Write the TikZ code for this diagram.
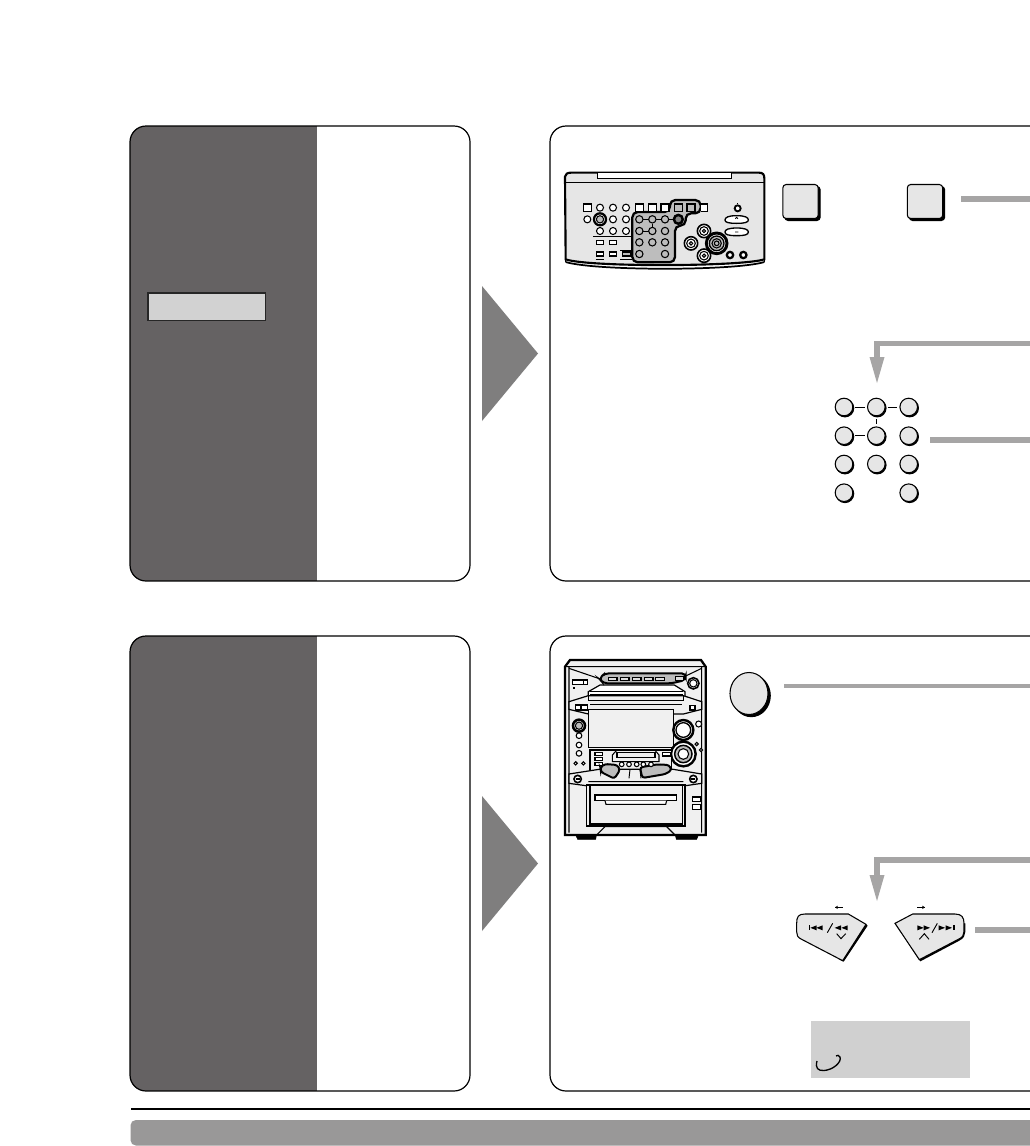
\documentclass[tikz,border=0pt]{standalone}
\usetikzlibrary{calc,shapes.geometric}
\definecolor{panelgrey}{HTML}{656263}
\definecolor{keygrey}{HTML}{E6E6E6}
\definecolor{bargrey}{HTML}{A6A5A5}
\definecolor{trigrey}{HTML}{7F7E7E}
\definecolor{hilite}{HTML}{BDBDBD}
\definecolor{notegrey}{HTML}{D0D0D0}
\definecolor{bandgrey}{HTML}{999898}
\definecolor{bodygrey}{HTML}{F0F0F0}
\tikzset{
  panel/.style={draw=black,line width=.9pt,rounded corners=12pt},
  keysq/.style={draw=black,fill=keygrey,line width=.8pt,rounded corners=2.5pt,minimum width=26.5pt,minimum height=25.5pt,inner sep=0pt,
     preaction={draw=black,fill=black,line width=.8pt,transform canvas={shift={(1.5pt,-1.5pt)}}}},
  keyrd/.style={circle,draw=black,fill=keygrey,line width=.8pt,minimum size=13.2pt,inner sep=0pt,
     preaction={draw=black,fill=black,line width=.8pt,transform canvas={shift={(.7pt,-.8pt)}}}},
  keybig/.style={ellipse,draw=black,fill=keygrey,line width=.8pt,minimum width=28.5pt,minimum height=31.5pt,inner sep=0pt,
     preaction={draw=black,fill=black,line width=.8pt,transform canvas={shift={(1.7pt,-1.6pt)}}}},
  bar/.style={draw=bargrey,line width=4.4pt},
  fin/.style={line width=.8pt,draw=black},
  hl/.style={fill=hilite,draw=black,line width=1.5pt,rounded corners=2pt},
  zoomed/.style={x=.25pt,y=-.25pt},
}
\newcommand{\bigpanel}[1]{%
  \begin{scope}[shift={(0,#1)}]
    \begin{scope}
      \clip[rounded corners=12pt] (130,126) rectangle (470,581);
      \fill[panelgrey] (130,126) rectangle (317,581);
    \end{scope}
    \draw[panel] (130,126) rectangle (470,581);
    \draw[panel] (550,126) rectangle (1060,581);
    \fill[trigrey] (482,286) -- (538,353.5) -- (482,421) -- cycle;
  \end{scope}}
\begin{document}
\begin{tikzpicture}[x=.75pt,y=-.75pt]
\useasboundingbox (0,0) rectangle (1030,1146);
\clip (0,0) rectangle (1030,1146);
\fill[white] (0,0) rectangle (1030,1146);
\bigpanel{0}
\bigpanel{510}
% label box on first dark panel
\node[draw=black!85,fill=notegrey!95!white,line width=1pt,minimum width=88pt,minimum height=20.5pt,inner sep=0pt] (labelbox) at (206.7,306.7) {};
% remote control
\begin{scope}[shift={(555,160)},zoomed]
  \draw[fill=keygrey,line width=1.6pt] (30,50) .. controls (32,42) and (36,38) .. (48,38) -- (612,38) .. controls (624,38) and (628,44) .. (628,55) -- (628,298) .. controls (560,320) and (100,322) .. (32,298) -- cycle;
  \draw[line width=.8pt] (32,68) -- (626,68);
  \draw[line width=.8pt,fill=white] (128,38) -- (128,55) -- (530,55) -- (530,38);
  \draw[line width=1.3pt] (32,306) .. controls (120,333) and (540,333) .. (628,306);
  \draw[line width=.8pt] (32,298) -- (32,306) (628,298) -- (628,306);
  % highlight
  \draw[hl,line width=1.7pt,rounded corners=4pt] (345,120) -- (437,120) -- (437,160) -- (392,160) -- (392,197) -- (360,197) -- (360,307) -- (232,307) -- (232,156) -- (345,156) -- cycle;
  \foreach \x in {253,292,330} \draw[fin,fill=hilite] (\x,178) circle (11);
  \draw[fin,fill=hilite!70!black] (370,178) circle (11);
  \draw[line width=1.5pt] (370,178) circle (14);
  \foreach \x in {253,292,330} \draw[fin,fill=hilite] (\x,213) circle (11);
  \foreach \x in {253,292,330} \draw[fin,fill=hilite] (\x,247) circle (11);
  \foreach \x in {253,330} \draw[fin,fill=hilite] (\x,282) circle (11);
  \draw[line width=.7pt] (264,178) -- (281,178) (303,178) -- (319,178) (341,178) -- (356,178) (264,213) -- (281,213) (292,191) -- (292,202);
  \foreach \x in {97,253,292,330} \draw[fin,fill=white] (\x-12,132) rectangle (\x+12,154);
  \foreach \x in {370,408} \draw[fin,fill=hilite] (\x-12,132) rectangle (\x+12,154);
  \draw[fin,fill=white] (437,132) -- (458,132) -- (458,154) -- (437,154);
  \foreach \x in {135,174,213} \draw[fin,fill=white] (\x,143) circle (10.5);
  \foreach \x in {97,174,213} \draw[fin,fill=white] (\x,178) circle (10.5);
  \draw[line width=1.7pt,fill=white] (135,178) circle (18);
  \draw[fin,fill=hilite] (135,178) circle (11);
  \foreach \x in {135,174,213} \draw[fin,fill=white] (\x,213) circle (10.5);
  \draw[line width=.7pt] (115,229) -- (232,229);
  \foreach \x in {135,174} \draw[fin,fill=white] (\x-11,241) rectangle (\x+11,253);
  \foreach \x in {135,174} \draw[fin,fill=white] (\x-11,276) rectangle (\x+11,288);
  \draw[fin,fill=hilite] (202,276) rectangle (228,288);
  \draw[line width=.7pt] (122,298) -- (148,298) (195,270) -- (232,270) (195,298) -- (232,298);
  % right cluster
  \draw[line width=1.4pt,fill=white] (548,145) circle (9);
  \draw[line width=.9pt] (548,133) -- (548,128);
  \draw[line width=1pt,fill=white] (545,167) .. controls (520,167) and (510,172) .. (510,180) .. controls (510,187) and (520,190) .. (545,190) .. controls (570,190) and (580,187) .. (580,180) .. controls (580,172) and (570,167) .. (545,167) -- cycle;
  \draw[line width=1pt,fill=white] (545,204) .. controls (520,204) and (510,209) .. (510,216) .. controls (510,224) and (520,227) .. (545,227) .. controls (570,227) and (580,224) .. (580,216) .. controls (580,209) and (570,204) .. (545,204) -- cycle;
  \draw[line width=.7pt] (541,176) -- (545,172) -- (549,176) (540,216) -- (550,216);
  \foreach \x/\y in {447/213,408/250,447/287} {
    \draw[line width=1.2pt,fill=white] (\x,\y) circle (20);
    \draw[line width=.8pt] (\x,\y) circle (13);
    \draw[line width=.8pt] (\x,\y) circle (5);
  }
  \draw[line width=2.2pt,fill=white] (485,250) circle (31);
  \draw[line width=1pt,fill=hilite] (485,250) circle (22);
  \draw[line width=.8pt] (485,250) circle (14);
  \draw[line width=.8pt] (485,250) circle (7);
  \foreach \x in {525,565} \draw[line width=1.7pt,fill=white] (\x,285) circle (9.5);
\end{scope}
% stereo unit
\begin{scope}[shift={(555,650)},zoomed]
  \draw[fill=black] (60,550) -- (68,568) -- (122,568) -- (125,550) -- cycle (360,550) -- (364,568) -- (425,568) -- (432,550) -- cycle;
  \draw[fill=bodygrey,line width=1.7pt] (30,50) -- (45,30) -- (438,30) -- (452,50) -- (452,555) -- (30,555) -- cycle;
  \draw[line width=.8pt] (33,50) -- (450,50) (42,50) -- (42,548) (440,50) -- (440,548) (125,555) -- (150,530) -- (335,530) -- (360,555);
  \draw[line width=.8pt] (42,55) -- (130,85) (440,55) -- (392,78);
  \draw[line width=.9pt,fill=white] (135,105) -- (100,125) -- (100,143) -- (390,143) -- (390,125) -- (358,105) -- cycle;
  \draw[line width=.7pt] (105,125) -- (385,125) (105,133) -- (385,133);
  \draw[hl,rounded corners=3pt] (132,85) -- (150,70) -- (392,70) -- (392,90) -- (350,100) -- (145,100) -- cycle;
  \foreach \x in {173,209,245,281,315} \draw[line width=.8pt,fill=hilite!50!white] (\x-13,82) rectangle (\x+13,92);
  \draw[line width=.8pt,fill=hilite!50!white] (362,80) rectangle (386,92);
  \draw[line width=1.2pt,fill=white] (415,100) circle (17);
  \draw[line width=.8pt] (415,100) circle (11);
  \draw[line width=.9pt,fill=white] (52,90) rectangle (85,104);
  \draw[line width=1.1pt,fill=white] (85,90) rectangle (98,104);
  \fill (53,112) rectangle (60,116);
  % upper band
  \draw[line width=.9pt,fill=bodygrey] (42,155) -- (100,137) -- (385,137) -- (440,155) -- (440,178) -- (385,192) -- (100,192) -- (42,178) -- cycle;
  \draw[line width=.7pt] (100,137) -- (100,150) -- (385,150) -- (385,137) (105,162) -- (380,162);
  \draw[line width=.9pt,fill=white] (62,165) rectangle (97,180);
  \draw[line width=.8pt] (78,165) -- (78,180);
  \draw[line width=.9pt,fill=white] (405,167) rectangle (420,180);
  % central display
  \draw[line width=.9pt,fill=bodygrey] (100,178) rectangle (355,292);
  \draw[line width=1.9pt,fill=white] (72,227) circle (18);
  \draw[fin,fill=hilite] (72,227) circle (11);
  \foreach \y in {257,285,310} \draw[fin,fill=white] (72,\y) circle (8.5);
  \draw[line width=1.8pt,fill=white] (385,240) circle (30);
  \draw[line width=1pt] (385,240) circle (22);
  \draw[fin,fill=white] (431,222) circle (9);
  \draw[line width=1.8pt,fill=white] (385,312) circle (37);
  \draw[line width=1.1pt,fill=hilite] (385,312) circle (26);
  \draw[fin,fill=white] (385,312) circle (16);
  \foreach \x/\y in {425/282,438/300,62/340,85/340} \draw[line width=.8pt,fill=white] (\x-5,\y) -- (\x,\y-5) -- (\x+5,\y) -- (\x,\y+5) -- cycle;
  % tape deck
  \draw[line width=1pt,fill=bodygrey] (105,300) rectangle (350,365);
  \draw[fin] (172,335) -- (172,315) -- (185,301) -- (300,301) -- (312,315) -- (312,335) -- cycle;
  \draw[line width=1pt] (186,308) rectangle (300,323);
  \foreach \y in {312,327,342} \draw[fin,fill=white] (120,\y-4) rectangle (142,\y+4);
  \draw[fin,fill=white] (323,308) rectangle (348,318);
  % lower band
  \draw[line width=.9pt,fill=bodygrey] (42,372) -- (132,358) -- (355,358) -- (440,372) -- (440,400) -- (385,408) -- (100,408) -- (42,400) -- cycle;
  \draw[line width=.7pt] (225,358) -- (222,385) (255,358) -- (258,385) (100,395) -- (385,395);
  \foreach \x in {68,415} {\draw[line width=1.2pt,fill=white] (\x,387) circle (11); \draw[line width=.8pt] (\x-6,387) -- (\x+6,387);}
  \draw[hl] (136,352) -- (150,342) -- (187,345) -- (195,360) -- (178,386) -- (138,366) -- cycle;
  \draw[hl] (255,352) -- (308,343) -- (342,345) -- (350,360) -- (332,372) -- (262,384) -- cycle;
  \foreach \x in {200,222,245,265,288} \draw[fin,fill=white] (\x,343) circle (7);
  % lower door
  \draw[line width=1pt,fill=bodygrey] (95,405) -- (390,405) -- (390,528) -- (95,528) -- cycle;
  \draw[fin] (105,405) -- (105,522) -- (382,522) -- (382,405);
  \draw[fin,fill=white] (120,435) rectangle (365,452);
  \draw[fin,fill=white] (150,452) -- (153,463) -- (332,463) -- (335,452);
  \foreach \y in {448,471} \draw[fin,fill=white] (412,\y-7) rectangle (438,\y+7);
\end{scope}
% big keys
\node[keysq] (k1) at (800.5,201.5) {};
\node[keysq] (k2) at (925,201.5) {};
\coordinate (k2out) at (961,199);
\coordinate (k2edge) at (1040,199);
\draw[bar] (k2out) -- (k2edge);
% arrow into keypad
\coordinate (a1edge) at (1040,343.5);
\coordinate (a1turn) at (877,343.5);
\coordinate (a1neck) at (877,358);
\coordinate (a1tip) at (877,383);
\node[keyrd] (p11) at (844,407) {};
\node[keyrd] (p12) at (876.3,407) {};
\node[keyrd] (p13) at (908.7,407) {};
\node[keyrd] (p21) at (844,435.7) {};
\node[keyrd] (p22) at (876.3,435.7) {};
\node[keyrd] (p23) at (908.7,435.7) {};
\node[keyrd] (p31) at (844,464) {};
\node[keyrd] (p32) at (876.3,464) {};
\node[keyrd] (p33) at (908.7,464) {};
\node[keyrd] (p41) at (844,492.7) {};
\node[keyrd] (p43) at (908.7,492.7) {};
\draw[bar] (a1edge) -- (a1turn) -- ([yshift=1pt]a1neck);
\fill[bargrey] (869.5,357) -- (884.5,357) -- (a1tip) -- cycle;
\draw[line width=.7pt,shorten >=1.6pt,shorten <=1.6pt] (p11) -- (p12);
\draw[line width=.7pt,shorten >=1.6pt,shorten <=1.6pt] (p12) -- (p13);
\draw[line width=.7pt,shorten >=1.6pt,shorten <=1.6pt] (p21) -- (p22);
\draw[line width=.7pt,shorten >=2pt,shorten <=2pt] (p12) -- (p22);
\coordinate (p2out) at (930,440);
\coordinate (p2edge) at (1040,440);
\draw[bar] (p2out) -- (p2edge);
% lower right
\node[keybig] (round) at (749,693.5) {};
\coordinate (roundout) at (784,686);
\coordinate (roundedge) at (1040,686);
\draw[draw=bargrey,line width=3.7pt] (roundout) -- (roundedge);
\coordinate (a2edge) at (1040,860);
\coordinate (a2turn) at (877,860);
\coordinate (a2neck) at (877,876);
\coordinate (a2tip) at (877,901);
\draw[bar] (a2edge) -- (a2turn) -- ([yshift=1pt]a2neck);
\fill[bargrey] (869.5,875) -- (884.5,875) -- (a2tip) -- cycle;
\coordinate (skipout) at (975,930);
\coordinate (skipedge) at (1040,930);
\draw[bar] (skipout) -- (skipedge);
% skip keys
\begin{scope}[shift={(780,890)},zoomed]
  \fill[black] (258,103) -- (263,107) -- (191,215) -- (175,207) -- cycle;
  \draw[fill=keygrey,line width=.8pt] (50,100) .. controls (50,80) and (55,72) .. (75,72) -- (205,72) -- (258,103) -- (188,212) -- (65,148) .. controls (52,142) and (50,135) .. (50,125) -- cycle;
  \fill[black] (345,100) -- (421,214) -- (538,152) .. controls (552,145) and (556,135) .. (556,125) -- (556,100) -- (545,100) -- cycle;
  \draw[fill=keygrey,line width=.8pt] (345,100) -- (398,72) -- (525,72) .. controls (545,72) and (552,82) .. (552,100) -- (552,125) .. controls (552,135) and (548,142) .. (535,148) -- (418,209) -- cycle;
  % left legend
  \fill (88,106) rectangle (91,121);
  \fill (110,106) -- (110,121) -- (91,113.5) -- cycle;
  \fill (128,106) -- (128,121) -- (109,113.5) -- cycle;
  \fill (183,106) -- (183,121) -- (164,113.5) -- cycle;
  \fill (203,106) -- (203,121) -- (184,113.5) -- cycle;
  \draw[line width=.7pt] (142,128) -- (158,100);
  \draw[line width=.7pt] (170,131) -- (183,146) -- (197,131);
  \draw[line width=.9pt] (165,52) -- (188,52);
  \fill (165,52) -- (173,47) -- (173,57) -- cycle;
  % right legend
  \fill (412,106) -- (412,121) -- (431,113.5) -- cycle;
  \fill (431,106) -- (431,121) -- (450,113.5) -- cycle;
  \fill (476,106) -- (476,121) -- (495,113.5) -- cycle;
  \fill (497,106) -- (497,121) -- (516,113.5) -- cycle;
  \fill (519,106) rectangle (524,121);
  \draw[line width=.7pt] (456,128) -- (472,100);
  \draw[line width=.7pt] (418,148) -- (433,131) -- (447,148);
  \draw[line width=.9pt] (412,52) -- (435,52);
  \fill (435,52) -- (427,47) -- (427,57) -- cycle;
\end{scope}
% note box
\node[fill=notegrey,minimum width=119.25pt,minimum height=42.75pt,inner sep=0pt] (note) at (890.5,1049.5) {};
\draw[line width=1pt] (817,1061) .. controls (815,1068) and (818,1071) .. (824,1070.5) .. controls (833,1070) and (842,1062) .. (840,1057) .. controls (839,1055) and (837,1055) .. (836,1056);
% foot rule and band
\coordinate (ruleL) at (131,1109);
\coordinate (ruleR) at (1040,1109);
\draw[line width=1.5pt] (ruleL) -- (ruleR);
\fill[bandgrey,rounded corners=4pt] (130.5,1145.5) -- (130.5,1120) -- (1060,1120) -- (1060,1145.5) -- cycle;
\end{tikzpicture}
\end{document}
